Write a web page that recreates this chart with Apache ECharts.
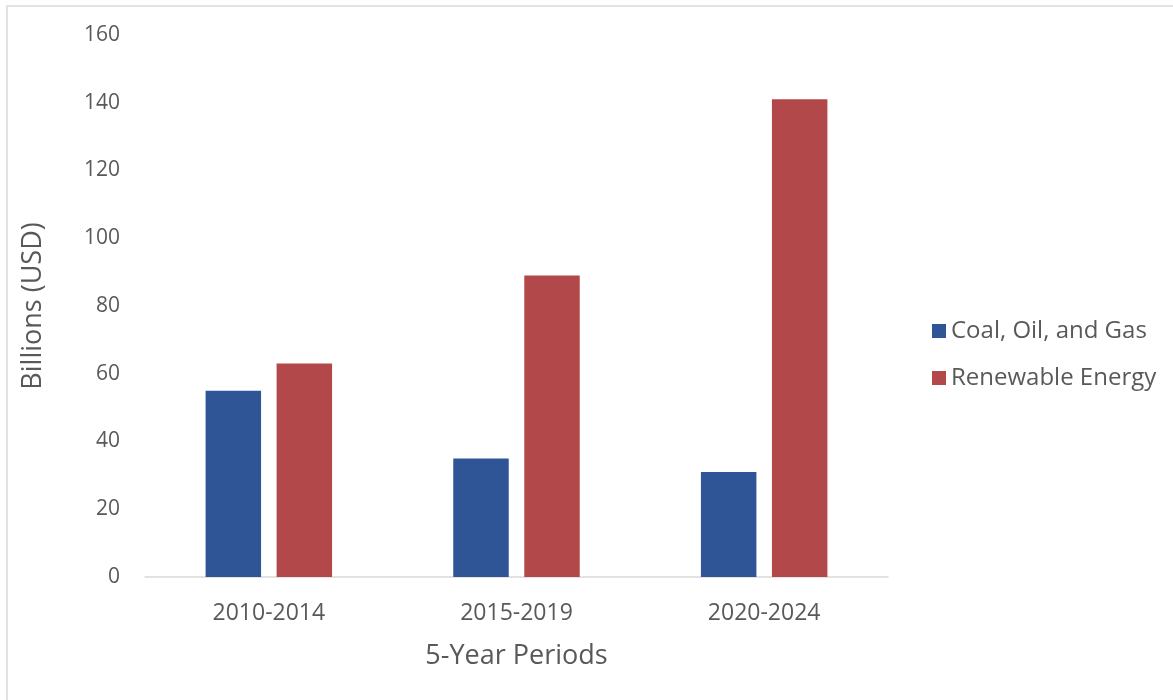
<!DOCTYPE html>
<html>
<head>
<meta charset="utf-8">
<script src="https://cdn.jsdelivr.net/npm/echarts@6/dist/echarts.min.js"></script>
<style>
  html, body { margin: 0; padding: 0; background: #fff; }
  #chart { width: 1173px; height: 700px; }
</style>
</head>
<body>
<div id="chart"></div>
<script>
// Investment by 5-year period, billions of USD
const periods = ['2010-2014', '2015-2019', '2020-2024'];
const fossilValues = [55, 35, 31];
const renewableValues = [63, 89, 141];
const seriesNames = ['Coal, Oil, and Gas', 'Renewable Energy'];
const yTicks = [0, 20, 40, 60, 80, 100, 120, 140, 160];

const FONT = '"Open Sans", "Noto Sans", sans-serif';
const chart = echarts.init(document.getElementById('chart'));

chart.setOption({
  backgroundColor: '#ffffff',
  animation: false,
  textStyle: { fontFamily: FONT },
  graphic: [{
    type: 'rect',
    shape: { x: 7, y: 6, width: 1180, height: 710 },
    style: { fill: 'none', stroke: '#d9d9d9', lineWidth: 1.5 },
    silent: true
  }],
  grid: { left: 145, right: 285, top: 35, bottom: 123 },
  legend: {
    orient: 'vertical',
    left: 927,
    top: 314,
    itemWidth: 14,
    itemHeight: 14,
    itemGap: 23,
    icon: 'rect',
    textStyle: { color: '#595959', fontSize: 24, fontFamily: FONT },
    data: seriesNames
  },
  xAxis: {
    type: 'category',
    data: periods,
    name: '5-Year Periods',
    nameLocation: 'middle',
    nameGap: 66,
    nameTextStyle: { color: '#595959', fontSize: 27, fontFamily: FONT },
    axisLine: { lineStyle: { color: '#d9d9d9', width: 1.5 } },
    axisTick: { show: false },
    axisLabel: { color: '#595959', fontSize: 23, margin: 25, fontFamily: FONT }
  },
  yAxis: {
    type: 'value',
    min: yTicks[0],
    max: yTicks[yTicks.length - 1],
    interval: 20,
    name: 'Billions (USD)',
    nameLocation: 'middle',
    nameGap: 98,
    nameRotate: 90,
    nameTextStyle: { color: '#595959', fontSize: 27, fontFamily: FONT },
    axisLine: { show: false },
    axisTick: { show: false },
    splitLine: { show: false },
    axisLabel: { color: '#595959', fontSize: 21, margin: 25, fontFamily: FONT }
  },
  series: [
    {
      name: seriesNames[0],
      type: 'bar',
      data: fossilValues,
      barWidth: '22.4%',
      barGap: '28%',
      itemStyle: { color: '#2F5597' }
    },
    {
      name: seriesNames[1],
      type: 'bar',
      data: renewableValues,
      barWidth: '22.4%',
      barGap: '28%',
      itemStyle: { color: '#B3484A' }
    }
  ]
});
</script>
</body>
</html>
